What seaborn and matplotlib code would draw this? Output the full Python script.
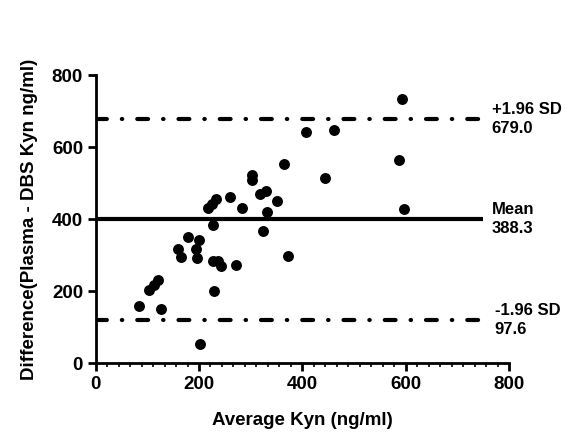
import matplotlib
matplotlib.use("Agg")
import matplotlib.pyplot as plt
from matplotlib.ticker import AutoMinorLocator
import seaborn as sns
import pandas as pd

avg_kyn = [83, 126, 104, 112, 120, 202, 229, 160, 165, 194, 197, 178, 200,
           228, 237, 243, 271, 227, 218, 226, 232, 259, 284, 303, 303, 318,
           329, 351, 332, 324, 372, 365, 406, 443, 462, 593, 586, 597]
diff_kyn = [159, 151, 203, 217, 231, 52, 201, 316, 294, 318, 292, 350, 341,
            283, 284, 270, 274, 385, 430, 442, 455, 461, 432, 522, 508, 470,
            477, 451, 420, 366, 298, 552, 641, 515, 648, 735, 564, 428]

line_levels = [679, 400, 120]
line_styles = ["dashdot", "solid", "dashdot"]
line_labels = ["+1.96 SD\n679.0", "Mean\n388.3", "-1.96 SD\n97.6"]
label_x = [766, 766, 772]

x_ticks = [0, 200, 400, 600, 800]
y_ticks = [0, 200, 400, 600, 800]

sns.set_theme(style="white")
plt.rcParams['font.family'] = ['Liberation Sans', 'DejaVu Sans']
plt.rcParams['font.weight'] = 'bold'
plt.rcParams['text.color'] = 'black'
plt.rcParams['axes.labelcolor'] = 'black'
plt.rcParams['xtick.color'] = 'black'
plt.rcParams['ytick.color'] = 'black'

fig = plt.figure(figsize=(5.76, 4.37), dpi=100)
ax = fig.add_axes([0.166, 0.169, 0.718, 0.659])

df = pd.DataFrame({"avg": avg_kyn, "diff": diff_kyn})
sns.scatterplot(data=df, x="avg", y="diff", ax=ax, color="black", s=62,
                edgecolor="black", linewidth=0, zorder=3, clip_on=False)

for lvl, ls, lab, lx in zip(line_levels, line_styles, line_labels, label_x):
    if ls == "solid":
        ax.plot([0, 750], [lvl, lvl], color="black", lw=3.0,
                solid_capstyle="butt", zorder=2)
    else:
        ax.plot([0, 750], [lvl, lvl], color="black", lw=3.0,
                dashes=(2.6, 3.6, 0.1, 3.6), dash_capstyle="round", zorder=2)
    ax.text(lx, lvl, lab, ha="left", va="center", fontsize=12, color="black",
            fontweight="bold", linespacing=1.3, clip_on=False)

ax.set_xlim(0, 800)
ax.set_ylim(0, 800)
ax.set_xticks(x_ticks)
ax.set_yticks(y_ticks)
ax.xaxis.set_minor_locator(AutoMinorLocator(9))

for side in ["top", "right"]:
    ax.spines[side].set_visible(False)
for side in ["left", "bottom"]:
    ax.spines[side].set_linewidth(2.0)
    ax.spines[side].set_color("black")

ax.tick_params(axis="both", which="major", direction="out", length=6, width=2,
               color="black", labelcolor="black", labelsize=13.5, pad=3,
               bottom=True, left=True)
ax.tick_params(axis="x", which="minor", direction="out", length=3, width=1.2,
               color="black", bottom=True)
ax.tick_params(axis="y", which="minor", length=0)
for lab in ax.get_xticklabels() + ax.get_yticklabels():
    lab.set_fontweight("bold")

ax.set_xlabel("Average Kyn (ng/ml)", fontsize=13.5, fontweight="bold",
              color="black", labelpad=14)
ax.set_ylabel("Difference(Plasma - DBS Kyn ng/ml)", fontsize=13.5,
              fontweight="bold", color="black", labelpad=10)
ax.grid(False)

fig.savefig("out.png", dpi=100)
